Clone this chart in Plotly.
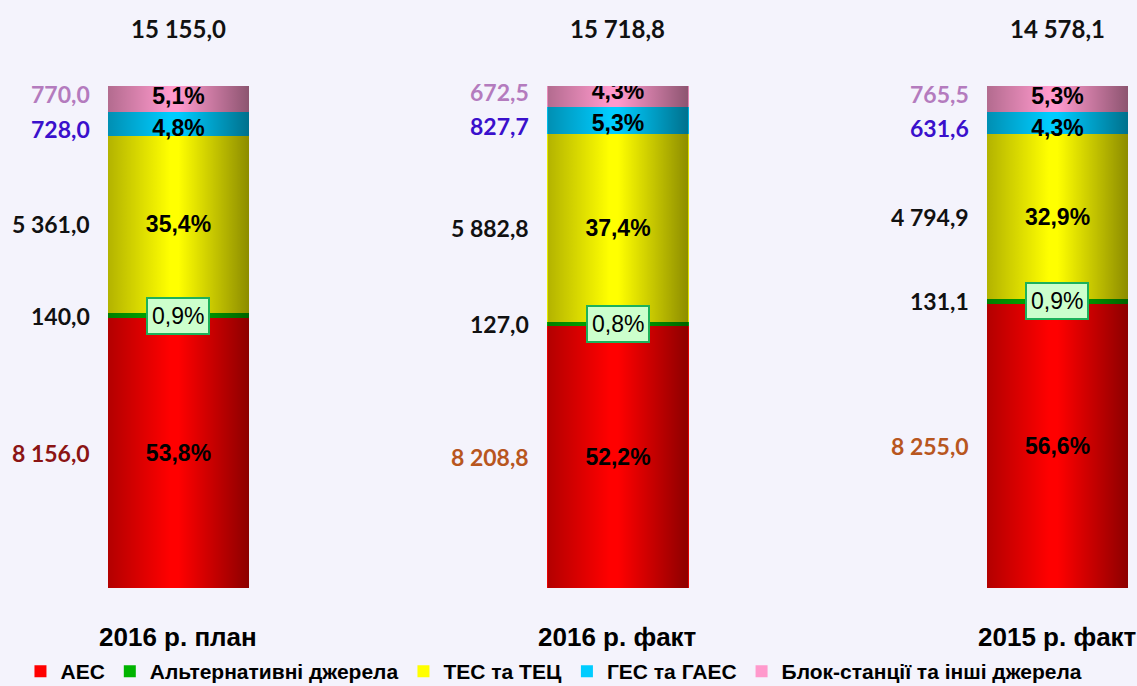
import base64
import plotly.graph_objects as go

# ---------------- data ----------------
categories = ["2016 р. план", "2016 р. факт", "2015 р. факт"]
series_names = ["АЕС", "Альтернативні джерела", "ТЕС та ТЕЦ", "ГЕС та ГАЕС", "Блок-станції та інші джерела"]
aes = [8156.0, 8208.8, 8255.0]
alt = [140.0, 127.0, 131.1]
tes = [5361.0, 5882.8, 4794.9]
ges = [728.0, 827.7, 631.6]
blok = [770.0, 672.5, 765.5]
totals = [15155.0, 15718.8, 14578.1]

# ---------------- styles ----------------
series_values = [aes, alt, tes, ges, blok]
series_colors = ["#FF0000", "#00B400", "#FFFF00", "#00CCFF", "#FF99CC"]
text_anchor = ["middle", "middle", "middle", "end", "start"]
value_label_colors = [
    ["#8B1414", "#B8561E", "#B8561E"],
    ["#111111", "#111111", "#111111"],
    ["#111111", "#111111", "#111111"],
    ["#3A10CC", "#3A10CC", "#3A10CC"],
    ["#B47BBE", "#B47BBE", "#B47BBE"],
]
label_yshift = [0, 0, 0, -5, 5]
BG = "#F4F3FC"
BAR_W = 0.321
VAL_FONT = "Lato, Carlito, Calibri, 'Noto Sans', sans-serif"
PCT_FONT = "'Liberation Sans', Arial, sans-serif"
LEG_FONT = "'Liberation Sans', Arial, sans-serif"


def fmt_num(v):
    return f"{v:,.1f}".replace(",", " ").replace(".", ",")


def fmt_pct(v, t):
    return f"{v / t * 100:.1f}%".replace(".", ",")


x_idx = list(range(len(categories)))
fig = go.Figure()

for k, (name, vals, col) in enumerate(zip(series_names, series_values, series_colors)):
    texts = [fmt_pct(v, t) for v, t in zip(vals, totals)]
    if k == 1:
        texts = ["" for _ in vals]
    fig.add_trace(go.Bar(
        name=name,
        x=x_idx,
        y=vals,
        width=BAR_W,
        marker=dict(color=col, line=dict(width=0)),
        text=texts,
        textposition="inside",
        insidetextanchor=text_anchor[k],
        textangle=0,
        textfont=dict(family=PCT_FONT, size=23, color="#000000", weight="bold"),
        hoverinfo="skip",
    ))

annotations = []
for i in x_idx:
    t = totals[i]
    cum = 0.0
    for k, vals in enumerate(series_values):
        p = vals[i] / t * 100
        center = cum + p / 2
        cum += p
        annotations.append(dict(
            x=i - BAR_W / 2, y=center, xref="x", yref="y",
            text=fmt_num(vals[i]), showarrow=False,
            xanchor="right", yanchor="middle", xshift=-16, yshift=label_yshift[k],
            font=dict(family=VAL_FONT, size=23, color=value_label_colors[k][i], weight="bold"),
        ))
        if k == 1:
            annotations.append(dict(
                x=i, y=center, xref="x", yref="y",
                text=fmt_pct(vals[i], t), showarrow=False,
                xanchor="center", yanchor="middle",
                bgcolor="#CCFFCC", bordercolor="#1DB15A", borderwidth=2, borderpad=4,
                font=dict(family=PCT_FONT, size=23, color="#000000"),
            ))
    annotations.append(dict(
        x=i, y=1, xref="x", yref="paper", text=fmt_num(totals[i]), showarrow=False,
        xanchor="center", yanchor="middle", yshift=58,
        font=dict(family=VAL_FONT, size=24, color="#111111", weight="bold"),
    ))
    annotations.append(dict(
        x=i, y=0, xref="x", yref="paper", text=categories[i], showarrow=False,
        xanchor="center", yanchor="middle", yshift=-49,
        font=dict(family=PCT_FONT, size=26, color="#000000", weight="bold"),
    ))

# horizontal shading overlay to mimic the cylinder-like gradient of the bars
svg = (
    "<svg xmlns='http://www.w3.org/2000/svg' width='100' height='100' viewBox='0 0 100 100' "
    "preserveAspectRatio='none'><defs><linearGradient id='g' x1='0' x2='1' y1='0' y2='0'>"
    "<stop offset='0' stop-color='#000' stop-opacity='0.3'/>"
    "<stop offset='0.44' stop-color='#000' stop-opacity='0'/>"
    "<stop offset='0.5' stop-color='#000' stop-opacity='0'/>"
    "<stop offset='1' stop-color='#000' stop-opacity='0.45'/>"
    "</linearGradient></defs><rect x='0' y='0' width='100' height='100' fill='url(#g)'/></svg>"
)
src = "data:image/svg+xml;base64," + base64.b64encode(svg.encode()).decode()
images = [dict(source=src, xref="x", yref="y", x=i - BAR_W / 2, y=100, sizex=BAR_W, sizey=100,
               xanchor="left", yanchor="top", sizing="stretch", layer="above", opacity=1)
          for i in x_idx]

fig.update_layout(
    width=1137, height=686,
    barmode="stack", barnorm="percent",
    paper_bgcolor=BG, plot_bgcolor=BG,
    margin=dict(l=0, r=0, t=86, b=98, autoexpand=False),
    xaxis=dict(range=[-0.4061, 2.1809], showticklabels=False, showgrid=False, zeroline=False,
               showline=False, fixedrange=True),
    yaxis=dict(range=[0, 100], showticklabels=False, showgrid=False, zeroline=False,
               showline=False, fixedrange=True),
    uniformtext=dict(minsize=23, mode="show"),
    legend=dict(orientation="h", xref="container", yref="container",
                x=0.018, xanchor="left", y=0.021, yanchor="middle",
                font=dict(family=LEG_FONT, size=21, color="#000000", weight="bold"),
                bgcolor="rgba(0,0,0,0)", traceorder="normal", itemclick=False,
                itemdoubleclick=False),
    annotations=annotations,
    images=images,
    showlegend=True,
)

fig.write_html(
    "out.html",
    config={"displayModeBar": False},
    post_script="document.body.style.margin='0';document.body.style.overflow='hidden';",
)
